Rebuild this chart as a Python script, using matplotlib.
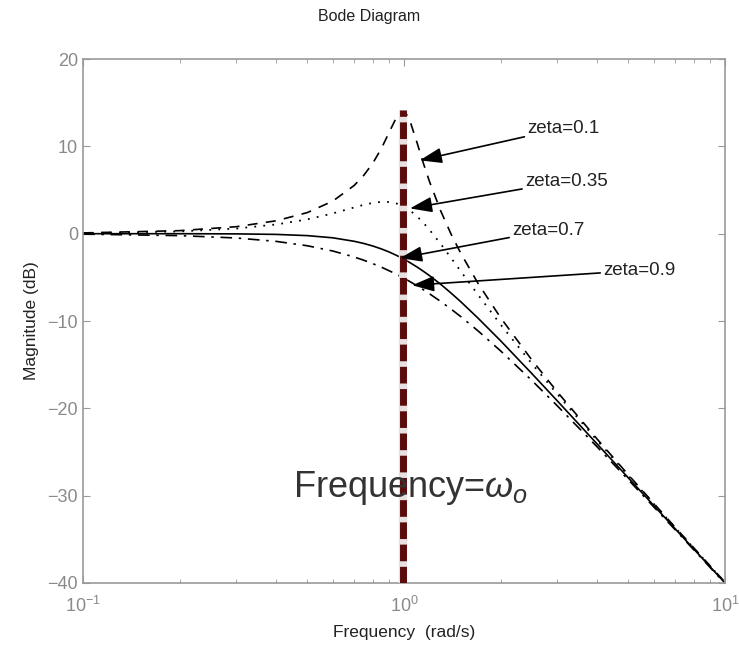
import matplotlib
matplotlib.use("Agg")
import matplotlib.pyplot as plt
from matplotlib.ticker import LogLocator

plt.rcParams["font.family"] = ["Liberation Sans", "DejaVu Sans"]
plt.rcParams["mathtext.fontset"] = "custom"
plt.rcParams["mathtext.rm"] = "Liberation Sans"
plt.rcParams["mathtext.it"] = "Liberation Sans:italic"
plt.rcParams["mathtext.default"] = "regular"

freq = [0.1, 0.2, 0.3, 0.4, 0.5, 0.6, 0.7, 0.75, 0.8, 0.85, 0.9, 0.95, 0.98, 1.0,
        1.02, 1.05, 1.1, 1.15, 1.2, 1.3, 1.4, 1.5, 1.7, 2.0, 2.5, 3.0, 4.0, 5.0, 7.0, 10.0]
mag_z01 = [0.09, 0.35, 0.80, 1.48, 2.42, 3.73, 5.53, 6.70, 8.09, 9.75, 11.64, 13.41, 13.98, 13.98,
           13.64, 12.63, 10.34, 8.04, 6.00, 2.65, 0.00, -2.18, -5.67, -9.62, -14.44, -18.09, -23.53, -27.61, -33.63, -39.91]
mag_z035 = [0.07, 0.26, 0.59, 1.06, 1.64, 2.32, 3.01, 3.31, 3.53, 3.65, 3.63, 3.45, 3.26, 3.10,
            2.91, 2.59, 1.96, 1.24, 0.46, -1.15, -2.75, -4.26, -6.98, -10.40, -14.86, -18.35, -23.67, -27.70, -33.67, -39.93]
mag_z07 = [0.00, 0.00, -0.02, -0.08, -0.22, -0.47, -0.87, -1.12, -1.41, -1.74, -2.10, -2.50, -2.75, -2.92,
           -3.10, -3.37, -3.83, -4.31, -4.79, -5.78, -6.78, -7.76, -9.66, -12.26, -16.00, -19.12, -24.09, -27.96, -33.80, -40.00]
mag_z09 = [-0.05, -0.22, -0.49, -0.88, -1.38, -1.98, -2.67, -3.04, -3.43, -3.83, -4.25, -4.67, -4.93, -5.11,
           -5.28, -5.54, -5.98, -6.42, -6.87, -7.75, -8.62, -9.47, -11.12, -13.42, -16.79, -19.69, -24.42, -28.18, -33.91, -40.05]

labels = ["zeta=0.1", "zeta=0.35", "zeta=0.7", "zeta=0.9"]
label_text_pos = [(2.42, 12.1), (2.38, 6.0), (2.17, 0.4), (4.17, -4.2)]
label_arrow_pos = [(1.12, 8.4), (1.044, 2.9), (0.972, -2.8), (1.06, -5.9)]

wo = 0.99
wo_top = 14.2

fig = plt.figure(figsize=(7.39, 6.49), dpi=100)
ax = fig.add_axes([0.1123, 0.1017, 0.8687, 0.8073])

ax.plot(freq, mag_z01, color="black", lw=1.2, linestyle=(0, (6, 5)))
ax.plot(freq, mag_z035, color="black", lw=1.3, linestyle=(0, (1, 4)))
ax.plot(freq, mag_z07, color="black", lw=1.2, linestyle="-")
ax.plot(freq, mag_z09, color="black", lw=1.2, linestyle=(0, (7, 4, 1.5, 4)))

ax.plot([wo, wo], [-40, wo_top], color="#e8e0e0", lw=6, solid_capstyle="butt", zorder=3)
ax.plot([wo, wo], [-40, wo_top], color="#5a0c0c", lw=5, linestyle=(0, (2.4, 0.8)), zorder=4)

ax.set_xscale("log")
ax.set_xlim(0.1, 10)
ax.set_ylim(-40, 20)
ax.set_yticks([-40, -30, -20, -10, 0, 10, 20])
ax.xaxis.set_major_locator(LogLocator(base=10))
ax.xaxis.set_minor_locator(LogLocator(base=10, subs=range(2, 10)))

gray = "#8a8a8a"
for s in ax.spines.values():
    s.set_color("#999999")
    s.set_linewidth(1.2)
ax.tick_params(which="both", direction="in", top=True, right=True, colors="#999999",
               labelcolor=gray, labelsize=13)
ax.tick_params(which="major", length=5)
ax.tick_params(axis="x", which="major", pad=9)
ax.tick_params(which="minor", length=3)

ax.set_xlabel("Frequency  (rad/s)", fontsize=12.5, color="#222222", labelpad=7)
ax.set_ylabel("Magnitude (dB)", fontsize=12.5, color="#222222", labelpad=6)
fig.text(0.5, 0.975, "Bode Diagram", ha="center", va="center", fontsize=11.5, color="#222222")

for lab, tp, ap in zip(labels, label_text_pos, label_arrow_pos):
    ax.annotate(lab, xy=ap, xytext=tp, ha="left", va="center", fontsize=13.5, color="#222222",
                arrowprops=dict(arrowstyle="-|>,head_length=1.0,head_width=0.35", color="black",
                                lw=1.2, shrinkA=0, shrinkB=0), zorder=5)

ax.text(1.05, -29.1, r"Frequency=$\mathit{\omega_o}$", ha="center", va="center", fontsize=26,
        color="#333333", zorder=6)

fig.savefig("out.png", dpi=100)
